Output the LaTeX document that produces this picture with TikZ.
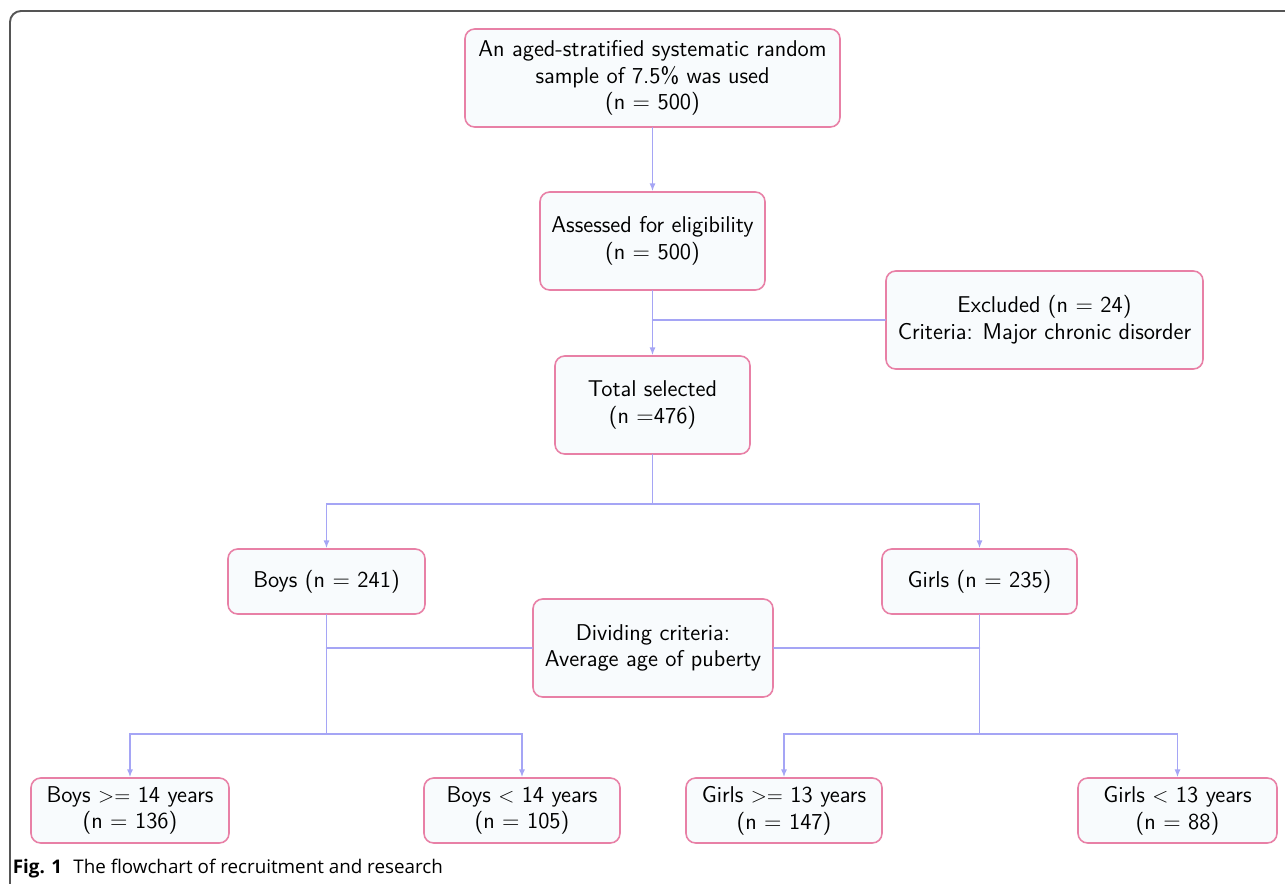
\documentclass[tikz,border=0pt]{standalone}
\usepackage{fontspec}
\newfontfamily\capfont{Open Sans}
\usetikzlibrary{arrows.meta,calc,positioning}

\definecolor{boxline}{RGB}{232,128,166}
\definecolor{boxfill}{RGB}{248,251,253}
\definecolor{linkline}{RGB}{165,165,245}
\definecolor{frameline}{RGB}{85,85,85}

\begin{document}
\begin{tikzpicture}[font=\sffamily\fontsize{13}{15.2}\selectfont,line cap=round,
  box/.style={draw=boxline,fill=boxfill,line width=0.9pt,rounded corners=5.5pt,
    align=center,inner sep=0pt,minimum height=1.96cm},
  smallbox/.style={box,minimum height=1.3cm},
  link/.style={draw=linkline,line width=0.8pt},
  arrow/.style={link,-{Latex[length=4.5pt,width=3.5pt]}}]
  \useasboundingbox (0,0) rectangle (25.7,-17.66);

  % outer frame
  \draw[frameline,line width=1.1pt,rounded corners=0.22cm] (0.2,-17.7) -- (0.2,-0.22) -- (25.75,-0.22);

  % Upper part
  \node[box,minimum width=7.5cm] (sample) at (13.05,-1.56) {An aged-stratified systematic random\\ sample of 7.5\% was used\\ (n = 500)};
  \node[box,minimum width=4.5cm] (assess) at (13.05,-4.82) {Assessed for eligibility\\ (n = 500)};
  \node[box,minimum width=6.34cm] (excl) at (20.89,-6.4) {Excluded (n = 24)\\ Criteria: Major chronic disorder};
  \node[box,minimum width=3.9cm] (total) at (13.05,-8.1) {Total selected\\ (n =476)};

  % Boys and girls
  \node[smallbox,minimum width=3.94cm] (boys) at (6.53,-11.63) {Boys (n = 241)};
  \node[smallbox,minimum width=3.9cm] (girls) at (19.59,-11.63) {Girls (n = 235)};
  \node[box,minimum width=4.8cm] (divide) at (13.06,-12.96) {Dividing criteria:\\ Average age of puberty};

  % Age groups
  \node[smallbox,minimum width=3.96cm] (boysold) at (2.6,-16.21) {Boys $>=$ 14 years\\ (n = 136)};
  \node[smallbox,minimum width=3.92cm] (boysyoung) at (10.44,-16.21) {Boys $<$ 14 years\\ (n = 105)};
  \node[smallbox,minimum width=3.92cm] (girlsold) at (15.68,-16.21) {Girls $>=$ 13 years\\ (n = 147)};
  \node[smallbox,minimum width=3.98cm] (girlsyoung) at (23.55,-16.21) {Girls $<$ 13 years\\ (n = 88)};

  % connectors
  \draw[arrow] (sample) -- (assess);
  \draw[arrow] (assess) -- (total);
  \draw[link] (excl.west) -- (excl.west -| assess.south);
  \draw[link] (total.south) -- ++(0,-0.98) coordinate (split);
  \draw[arrow] (split) -| (boys.north);
  \draw[arrow] (split) -| (girls.north);
  \draw[link] (boys.south) -- ++(0,-2.38) coordinate (bsplit);
  \draw[link] (girls.south) -- ++(0,-2.38) coordinate (gsplit);
  \draw[link] (divide.west) -- (divide.west -| boys.south);
  \draw[link] (divide.east) -- (divide.east -| girls.south);
  \draw[arrow] (bsplit) -| (boysold.north);
  \draw[arrow] (bsplit) -| (boysyoung.north);
  \draw[arrow] (gsplit) -| (girlsold.north);
  \draw[arrow] (gsplit) -| (girlsyoung.north);

  % caption
  \node[anchor=base west,font=\capfont\fontsize{10.7}{12}\selectfont,inner sep=0pt] (caption) at (0.25,-17.46) {\textbf{Fig. 1}\hspace{0.6em}The flowchart of recruitment and research};
\end{tikzpicture}
\end{document}
